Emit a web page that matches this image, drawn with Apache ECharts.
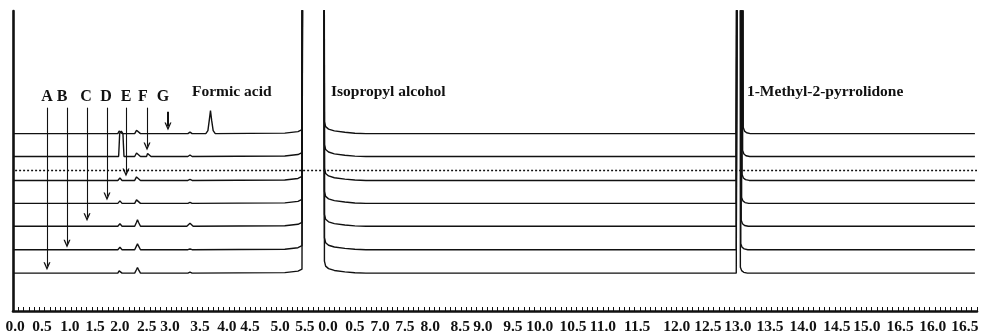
<!DOCTYPE html>
<html>
<head>
<meta charset="utf-8">
<script src="https://cdn.jsdelivr.net/npm/echarts@6/dist/echarts.min.js"></script>
<style>html,body{margin:0;padding:0;background:#fff;}#chart{width:983px;height:335px;}</style>
</head>
<body>
<div id="chart"></div>
<script>
// ---- tick labels (as printed under the figure) and their positions on the time axis
const tickLabels = ['0.0','0.5','1.0','1.5','2.0','2.5','3.0','3.5','4.0','4.5','5.0','5.5','0.0','0.5','7.0','7.5','8.0','8.5','9.0','9.5','10.0','10.5','11.0','11.5','12.0','12.5','13.0','13.5','14.0','14.5','15.0','16.5','16.0','16.5'];
const tickValues = [0.04,0.55,1.08,1.56,2.03,2.54,2.98,3.55,4.06,4.50,5.07,5.54,5.98,6.49,6.97,7.44,7.92,8.49,8.92,9.49,10.00,10.63,11.20,11.85,12.60,13.19,13.76,14.37,15.00,15.64,16.21,16.84,17.46,18.07];

// ---- trace baselines (stack offsets), top trace first
const traceOffsets = [178, 155, 131, 108, 85, 61.5, 38];
const dottedLevel = 141;

// ---- early-eluting region of each trace: [time, signal above baseline]
const traceEarly = [
  [[0,0],[1.99,0],[2.015,2.5],[2.03,3.5],[2.045,2.5],[2.07,0],[2.31,0],[2.345,3.3],[2.363,5],[2.382,3.3],[2.42,0],[3.32,0],[3.36,1.5],[3.4,0],[3.66,0],[3.7,3],[3.725,13],[3.749,23],[3.772,13],[3.8,3],[3.84,0]],
  [[0,0],[2.005,0],[2.016,12],[2.025,23],[2.056,25.5],[2.087,23],[2.096,12],[2.107,0],[2.31,0],[2.345,3.5],[2.363,5.5],[2.382,3.5],[2.42,0],[2.535,0],[2.555,3],[2.572,4.7],[2.59,3],[2.62,0],[3.32,0],[3.36,1.5],[3.4,0]],
  [[0,0],[1.99,0],[2.015,2],[2.03,2.5],[2.045,2],[2.07,0],[2.31,0],[2.345,3.5],[2.363,5.5],[2.382,3.5],[2.42,0],[3.32,0],[3.36,1],[3.4,0]],
  [[0,0],[1.99,0],[2.015,2],[2.03,2.5],[2.045,2],[2.07,0],[2.31,0],[2.345,3.5],[2.363,5.5],[2.382,3.5],[2.42,0],[3.32,0],[3.36,1],[3.4,0]],
  [[0,0],[1.99,0],[2.015,2],[2.03,2.5],[2.045,2],[2.07,0],[2.31,0],[2.345,4],[2.363,6.5],[2.382,4],[2.42,0],[3.3,0],[3.36,3],[3.42,0]],
  [[0,0],[1.99,0],[2.015,2],[2.03,2.5],[2.045,2],[2.07,0],[2.31,0],[2.345,3.8],[2.363,6],[2.382,3.8],[2.42,0],[3.32,0],[3.36,0.7],[3.4,0]],
  [[0,0],[1.99,0],[2.015,2.3],[2.03,3],[2.045,2.3],[2.07,0],[2.31,0],[2.345,3.6],[2.363,5.7],[2.382,3.6],[2.42,0],[3.32,0],[3.36,1],[3.4,0]]
];

// ---- isopropyl alcohol (off-scale) region, same in every trace
const ipaRegion = [[5.16,0.5],[5.41,2],[5.486,4],[5.505,500],[5.904,500],[5.912,12],[5.935,7],[5.99,4.5],[6.1,2.7],[6.3,1.3],[6.49,0.4],[6.7,0]];

// ---- 1-methyl-2-pyrrolidone (off-scale) peak edges per trace: [rise, fall]
const nmpEdges = [[13.744,13.857],[13.752,13.845],[13.748,13.835],[13.756,13.826],[13.750,13.818],[13.754,13.810],[13.752,13.802]];
const runEnd = 18.26;

// ---- arrows: label, time, start level, end level
const arrowLabels = ['A','B','C','D','E','F','G'];
const arrowTimes  = [0.645,1.025,1.405,1.784,2.145,2.544,2.942];
const arrowStart  = [204,204,204,204,204,204,200];
const arrowEnd    = [45,67.5,94,115,139,165,185];
const letterTimes = [0.645,0.93,1.386,1.765,2.145,2.468,2.847];
const letterLevel = 215;

// ---- compound annotations
const compoundNames = ['Formic acid','Isopropyl alcohol','1-Methyl-2-pyrrolidone'];
const compoundTimes = [3.398,6.036,13.933];
const compoundLevel = 220;

const XMAX = 18.3, YMAX = 301;
const INK = '#111111';
const FONT = '"Liberation Serif","Times New Roman",serif';

function buildTrace(i) {
  const off = traceOffsets[i];
  const pts = [];
  traceEarly[i].forEach(p => pts.push([p[0], p[1] + off]));
  ipaRegion.forEach(p => pts.push([p[0], p[1] + off]));
  const e = nmpEdges[i];
  [[13.73,0],[e[0]-0.004,0.6],[e[0],500],[e[1],500],[e[1]+0.006,6],[e[1]+0.03,2.5],[e[1]+0.07,0.8],[e[1]+0.14,0],[runEnd,0]]
    .forEach(p => pts.push([p[0], p[1] + off]));
  return pts;
}

const series = [];
traceOffsets.forEach((o, i) => {
  series.push({
    type: 'line', name: 'trace' + (i + 1), data: buildTrace(i),
    showSymbol: false, symbol: 'none', clip: true, silent: true,
    lineStyle: { color: INK, width: 1.4 }
  });
});
series.push({
  type: 'line', name: 'dotted', data: [[0.04, dottedLevel], [XMAX, dottedLevel]],
  symbol: 'none', silent: true,
  lineStyle: { color: INK, width: 1.5, type: [2, 2] }
});
const chevron = 'path://M0,10 L5,0 L10,10 L8,10 L5,4 L2,10 Z';
series.push({
  type: 'line', name: 'arrows', data: [], silent: true,
  markLine: {
    silent: true, animation: false, label: { show: false },
    symbol: ['none', chevron], symbolSize: [7, 8],
    lineStyle: { color: INK, width: 1.1, type: 'solid' },
    data: arrowTimes.map((t, i) => [
      { coord: [t, arrowStart[i]], lineStyle: { width: i === 6 ? 2 : 1.1 } },
      { coord: [t, arrowEnd[i]] }
    ])
  }
});
const textLabel = { show: true, formatter: '{b}', color: INK, opacity: 1, fontFamily: FONT, fontWeight: 'bold' };
series.push({
  type: 'scatter', name: 'letters', symbolSize: 0, silent: true,
  itemStyle: { opacity: 1 },
  data: letterTimes.map((t, i) => ({ value: [t, letterLevel], name: arrowLabels[i] })),
  label: Object.assign({}, textLabel, { position: 'inside', fontSize: 16 })
});
series.push({
  type: 'scatter', name: 'compounds', symbolSize: 0, silent: true,
  itemStyle: { opacity: 1 },
  data: compoundTimes.map((t, i) => ({ value: [t, compoundLevel], name: compoundNames[i] })),
  label: Object.assign({}, textLabel, { position: 'right', distance: 0, fontSize: 15.5 })
});

const chart = echarts.init(document.getElementById('chart'), null, { renderer: 'canvas' });
chart.setOption({
  animation: false,
  backgroundColor: '#fff',
  grid: { left: 13, right: 6, top: 11, bottom: 23, containLabel: false },
  xAxis: [
    {
      type: 'value', min: 0, max: XMAX, position: 'bottom',
      axisLine: { show: true, onZero: false, lineStyle: { color: INK, width: 2.6 } },
      axisTick: { show: false },
      splitLine: { show: false },
      axisLabel: {
        show: true, customValues: tickValues, margin: 8,
        color: INK, fontFamily: FONT, fontWeight: 'bold', fontSize: 15.5,
        formatter: function (v) {
          let best = 0, d = Infinity;
          tickValues.forEach((tv, k) => { const dd = Math.abs(tv - v); if (dd < d) { d = dd; best = k; } });
          return tickLabels[best];
        }
      }
    },
    {
      type: 'value', min: 0, max: XMAX, interval: 0.1, position: 'bottom',
      axisLine: { show: false },
      axisTick: { show: true, inside: true, length: 4, lineStyle: { color: INK, width: 1 } },
      axisLabel: { show: false },
      splitLine: { show: false }
    }
  ],
  yAxis: {
    type: 'value', min: 0, max: YMAX,
    axisLine: { show: true, lineStyle: { color: INK, width: 2.6 } },
    axisTick: { show: false }, axisLabel: { show: false }, splitLine: { show: false }
  },
  series: series
});
</script>
</body>
</html>
